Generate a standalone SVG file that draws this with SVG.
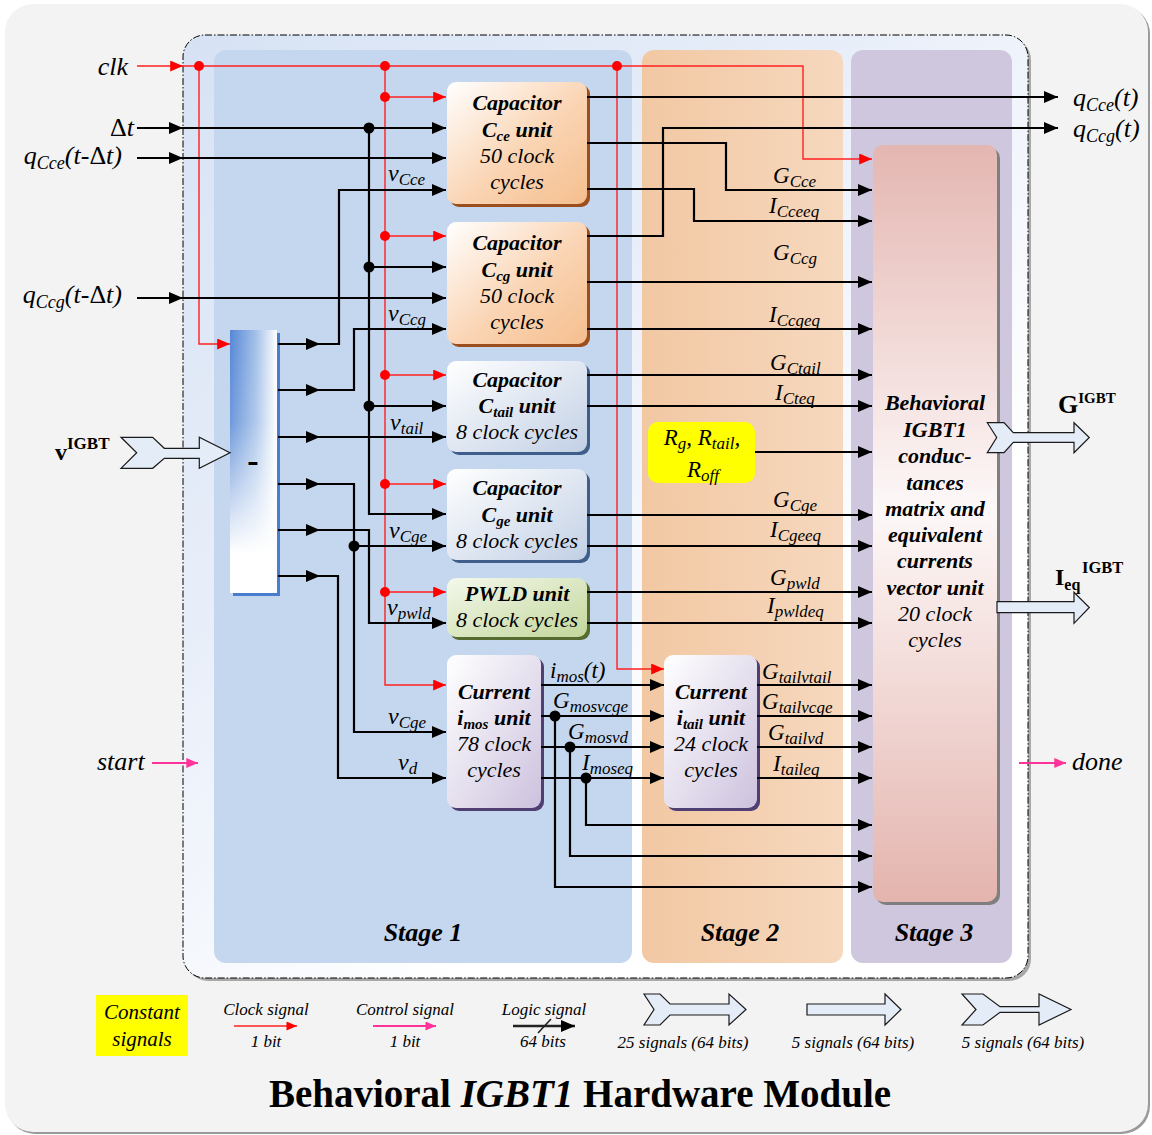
<svg xmlns="http://www.w3.org/2000/svg" width="1152" height="1135" viewBox="0 0 1152 1135">
<defs>
<style>
text{font-family:"Liberation Serif","Times New Roman",serif;fill:#000}
.it{font-style:italic}
.bi{font-style:italic;font-weight:bold}
.bd{font-weight:bold}
.w{fill:none;stroke:#000;stroke-width:2.2}
.r{fill:none;stroke:#ff2020;stroke-width:1.4}
.pk{fill:none;stroke:#ff3399;stroke-width:2}
.lab{font-style:italic;font-size:23px}
.vl{font-style:italic;font-size:24px}
.s{font-size:17px}
.blk{font-size:22px;text-anchor:middle}
.chev{fill:#e4ecf7;stroke:#1a1a1a;stroke-width:1.2}
.leg{font-style:italic;font-size:17px;text-anchor:middle}
.stg{font-style:italic;font-weight:bold;font-size:26px;text-anchor:middle}
</style>
<marker id="ab" viewBox="0 0 14 12" refX="14" refY="6" markerWidth="14" markerHeight="12" markerUnits="userSpaceOnUse" orient="auto"><path d="M0,0 L14,6 L0,12 z" fill="#000"/></marker>
<marker id="ar" viewBox="0 0 14 12" refX="14" refY="6" markerWidth="14" markerHeight="11" markerUnits="userSpaceOnUse" orient="auto"><path d="M0,0 L14,6 L0,12 z" fill="#ff0000"/></marker>
<marker id="ap" viewBox="0 0 14 12" refX="14" refY="6" markerWidth="13" markerHeight="10" markerUnits="userSpaceOnUse" orient="auto"><path d="M0,0 L14,6 L0,12 z" fill="#ff3399"/></marker>
<marker id="arS" viewBox="0 0 14 12" refX="14" refY="6" markerWidth="11" markerHeight="9" markerUnits="userSpaceOnUse" orient="auto"><path d="M0,0 L14,6 L0,12 z" fill="#ff0000"/></marker>
<marker id="apS" viewBox="0 0 14 12" refX="14" refY="6" markerWidth="11" markerHeight="9" markerUnits="userSpaceOnUse" orient="auto"><path d="M0,0 L14,6 L0,12 z" fill="#ff3399"/></marker>
<linearGradient id="gCont" gradientUnits="userSpaceOnUse" x1="183" y1="35" x2="1028" y2="978"><stop offset="0" stop-color="#d6e2f4"/><stop offset="0.35" stop-color="#e8eef9"/><stop offset="0.7" stop-color="#ffffff"/></linearGradient>
<linearGradient id="gS2" x1="0" y1="0" x2="1" y2="0"><stop offset="0" stop-color="#f2c8a3"/><stop offset="1" stop-color="#f6d8be"/></linearGradient>
<linearGradient id="gCap" x1="0" y1="0" x2="1" y2="1"><stop offset="0" stop-color="#ffffff"/><stop offset="0.55" stop-color="#fad4b3"/><stop offset="1" stop-color="#f5bf8f"/></linearGradient>
<linearGradient id="gBlu" x1="0" y1="0" x2="1" y2="1"><stop offset="0" stop-color="#ffffff"/><stop offset="1" stop-color="#c2d0e5"/></linearGradient>
<linearGradient id="gGrn" x1="0" y1="0" x2="1" y2="1"><stop offset="0" stop-color="#f4f8ec"/><stop offset="1" stop-color="#c3d79b"/></linearGradient>
<linearGradient id="gCur" x1="0" y1="0" x2="1" y2="1"><stop offset="0" stop-color="#ffffff"/><stop offset="1" stop-color="#cdc2de"/></linearGradient>
<linearGradient id="gS3" x1="0" y1="0" x2="0" y2="1"><stop offset="0" stop-color="#e4b6b1"/><stop offset="0.48" stop-color="#fdf8f8"/><stop offset="1" stop-color="#e4b4ae"/></linearGradient>
<linearGradient id="gSubH" x1="0" y1="0" x2="1" y2="0"><stop offset="0" stop-color="#5587d5"/><stop offset="0.55" stop-color="#a3c0e8"/><stop offset="1" stop-color="#ffffff"/></linearGradient>
<linearGradient id="gSubV" x1="0" y1="0" x2="0" y2="1"><stop offset="0" stop-color="#ffffff" stop-opacity="0"/><stop offset="0.35" stop-color="#ffffff" stop-opacity="0.15"/><stop offset="0.85" stop-color="#ffffff" stop-opacity="1"/></linearGradient>
</defs>

<!-- background -->
<rect x="7" y="6" width="1143" height="1128" rx="28" fill="#9a9a9a"/>
<rect x="5" y="4" width="1143" height="1128" rx="28" fill="#f3f3f3"/>

<!-- module container -->
<g id="container">
<rect x="186" y="38" width="845" height="943" rx="22" fill="#a8a8a8"/>
<rect x="183" y="35" width="845" height="943" rx="22" fill="url(#gCont)" stroke="#000" stroke-width="1" stroke-dasharray="7 2 1.5 2"/>
</g>

<!-- stage panels -->
<g id="stage1"><rect x="214" y="50" width="418" height="913" rx="12" fill="#c5d7ee"/><text class="stg" x="423" y="941">Stage 1</text></g>
<g id="stage2"><rect x="642" y="50" width="201" height="913" rx="12" fill="url(#gS2)"/><text class="stg" x="740" y="941">Stage 2</text></g>
<g id="stage3"><rect x="851" y="50" width="161" height="913" rx="12" fill="#cfc7dd"/><text class="stg" x="934" y="941">Stage 3</text></g>

<!-- nodes -->
<g id="subtractor">
<rect x="233" y="333" width="47" height="263" fill="#4a7ccf"/>
<rect x="230" y="330" width="47" height="263" fill="url(#gSubH)"/>
<rect x="230" y="330" width="47" height="263" fill="url(#gSubV)"/>
<text x="253" y="472" font-size="34" font-weight="bold" text-anchor="middle">-</text>
</g>

<g id="cce-unit">
<rect x="450" y="85" width="140" height="122" rx="9" fill="#9c4f1c"/>
<rect x="447" y="82" width="140" height="122" rx="9" fill="url(#gCap)"/>
<text class="blk bi" x="517" y="110">Capacitor</text>
<text class="blk bi" x="517" y="137">C<tspan font-size="15" dy="4">ce</tspan><tspan dy="-4"> unit</tspan></text>
<text class="blk it" x="517" y="163">50 clock</text>
<text class="blk it" x="517" y="189">cycles</text>
</g>

<g id="ccg-unit">
<rect x="450" y="225" width="140" height="122" rx="9" fill="#9c4f1c"/>
<rect x="447" y="222" width="140" height="122" rx="9" fill="url(#gCap)"/>
<text class="blk bi" x="517" y="250">Capacitor</text>
<text class="blk bi" x="517" y="277">C<tspan font-size="15" dy="4">cg</tspan><tspan dy="-4"> unit</tspan></text>
<text class="blk it" x="517" y="303">50 clock</text>
<text class="blk it" x="517" y="329">cycles</text>
</g>

<g id="ctail-unit">
<rect x="450" y="364" width="140" height="91" rx="9" fill="#3f5f8a"/>
<rect x="447" y="361" width="140" height="91" rx="9" fill="url(#gBlu)"/>
<text class="blk bi" x="517" y="387">Capacitor</text>
<text class="blk bi" x="517" y="413">C<tspan font-size="15" dy="4">tail</tspan><tspan dy="-4"> unit</tspan></text>
<text class="blk it" x="517" y="439">8 clock cycles</text>
</g>

<g id="cge-unit">
<rect x="450" y="472" width="140" height="91" rx="9" fill="#3f5f8a"/>
<rect x="447" y="469" width="140" height="91" rx="9" fill="url(#gBlu)"/>
<text class="blk bi" x="517" y="495">Capacitor</text>
<text class="blk bi" x="517" y="522">C<tspan font-size="15" dy="4">ge</tspan><tspan dy="-4"> unit</tspan></text>
<text class="blk it" x="517" y="548">8 clock cycles</text>
</g>

<g id="pwld-unit">
<rect x="450" y="581" width="140" height="59" rx="9" fill="#556b2f"/>
<rect x="447" y="578" width="140" height="59" rx="9" fill="url(#gGrn)"/>
<text class="blk bi" x="517" y="601">PWLD unit</text>
<text class="blk it" x="517" y="627">8 clock cycles</text>
</g>

<g id="imos-unit">
<rect x="450" y="658" width="94" height="153" rx="9" fill="#4f3f72"/>
<rect x="447" y="655" width="94" height="153" rx="9" fill="url(#gCur)"/>
<text class="blk bi" x="494" y="699">Current</text>
<text class="blk bi" x="494" y="725">i<tspan font-size="15" dy="4">mos</tspan><tspan dy="-4"> unit</tspan></text>
<text class="blk it" x="494" y="751">78 clock</text>
<text class="blk it" x="494" y="777">cycles</text>
</g>

<g id="itail-unit">
<rect x="667" y="658" width="93" height="153" rx="9" fill="#4f3f72"/>
<rect x="664" y="655" width="93" height="153" rx="9" fill="url(#gCur)"/>
<text class="blk bi" x="711" y="699">Current</text>
<text class="blk bi" x="711" y="725">i<tspan font-size="15" dy="4">tail</tspan><tspan dy="-4"> unit</tspan></text>
<text class="blk it" x="711" y="751">24 clock</text>
<text class="blk it" x="711" y="777">cycles</text>
</g>

<g id="constants">
<rect x="648" y="422" width="107" height="61" rx="10" fill="#ffff00"/>
<text class="lab" x="702" y="445" text-anchor="middle">R<tspan class="s" dy="4">g</tspan><tspan dy="-4">, R</tspan><tspan class="s" dy="4">tail</tspan><tspan dy="-4">,</tspan></text>
<text class="lab" x="703" y="477" text-anchor="middle">R<tspan class="s" dy="4">off</tspan></text>
</g>

<g id="igbt-unit">
<rect x="876" y="148" width="124" height="757" rx="10" fill="#7f7f7f"/>
<rect x="873" y="145" width="124" height="757" rx="10" fill="url(#gS3)"/>
<text class="blk bi" x="935" y="410">Behavioral</text>
<text class="blk bi" x="935" y="436.5">IGBT1</text>
<text class="blk bi" x="935" y="463">conduc-</text>
<text class="blk bi" x="935" y="489.5">tances</text>
<text class="blk bi" x="935" y="516">matrix and</text>
<text class="blk bi" x="935" y="542">equivalent</text>
<text class="blk bi" x="935" y="568">currents</text>
<text class="blk bi" x="935" y="594.5">vector unit</text>
<text class="blk it" x="935" y="621">20 clock</text>
<text class="blk it" x="935" y="647">cycles</text>
</g>

<!-- connectors -->
<g id="connectors">
<!-- clock (red) -->
<path class="r" d="M137,66 H183" marker-end="url(#ar)"/>
<path class="r" d="M183,66 H803 V159 H872" marker-end="url(#ar)"/>
<path class="r" d="M199,66 V344 H230" marker-end="url(#ar)"/>
<path class="r" d="M385,66 V685 H446" marker-end="url(#ar)"/>
<path class="r" d="M385,97 H446" marker-end="url(#ar)"/>
<path class="r" d="M385,236 H446" marker-end="url(#ar)"/>
<path class="r" d="M385,375 H446" marker-end="url(#ar)"/>
<path class="r" d="M385,484 H446" marker-end="url(#ar)"/>
<path class="r" d="M385,592 H446" marker-end="url(#ar)"/>
<path class="r" d="M617,66 V669 H664" marker-end="url(#ar)"/>
<g fill="#ff0000">
<circle cx="199" cy="66" r="5"/><circle cx="385" cy="66" r="5"/><circle cx="617" cy="66" r="5"/>
<circle cx="385" cy="97" r="5"/><circle cx="385" cy="236" r="5"/><circle cx="385" cy="375" r="5"/>
<circle cx="385" cy="484" r="5"/><circle cx="385" cy="592" r="5"/>
</g>
<!-- control (pink) -->
<path class="pk" d="M152,763 H198" marker-end="url(#ap)"/>
<path class="pk" d="M1019,763 H1066" marker-end="url(#ap)"/>
<!-- inputs -->
<path class="w" d="M137,128 H183" marker-end="url(#ab)"/>
<path class="w" d="M183,128 H446" marker-end="url(#ab)"/>
<path class="w" d="M137,158 H183" marker-end="url(#ab)"/>
<path class="w" d="M183,158 H446" marker-end="url(#ab)"/>
<path class="w" d="M137,298 H183" marker-end="url(#ab)"/>
<path class="w" d="M183,298 H446" marker-end="url(#ab)"/>
<path class="w" d="M369,128 V514 H446" marker-end="url(#ab)"/>
<path class="w" d="M369,267 H446" marker-end="url(#ab)"/>
<path class="w" d="M369,406 H446" marker-end="url(#ab)"/>
<!-- subtractor outputs -->
<path class="w" d="M278,344 H320" marker-end="url(#ab)"/>
<path class="w" d="M320,344 H339 V190 H446" marker-end="url(#ab)"/>
<path class="w" d="M278,390 H320" marker-end="url(#ab)"/>
<path class="w" d="M320,390 H354 V329 H446" marker-end="url(#ab)"/>
<path class="w" d="M278,437 H320" marker-end="url(#ab)"/>
<path class="w" d="M320,437 H446" marker-end="url(#ab)"/>
<path class="w" d="M278,484 H320" marker-end="url(#ab)"/>
<path class="w" d="M320,484 H354 V732 H446" marker-end="url(#ab)"/>
<path class="w" d="M354,546 H446" marker-end="url(#ab)"/>
<path class="w" d="M278,530 H320" marker-end="url(#ab)"/>
<path class="w" d="M320,530 H369 V623 H446" marker-end="url(#ab)"/>
<path class="w" d="M278,576 H320" marker-end="url(#ab)"/>
<path class="w" d="M320,576 H338 V778 H446" marker-end="url(#ab)"/>
<!-- capacitor outputs -->
<path class="w" d="M587,97 H1058" marker-end="url(#ab)"/>
<path class="w" d="M587,143 H726 V190 H872" marker-end="url(#ab)"/>
<path class="w" d="M587,189 H694 V221 H872" marker-end="url(#ab)"/>
<path class="w" d="M587,236 H663 V128 H1058" marker-end="url(#ab)"/>
<path class="w" d="M587,282 H872" marker-end="url(#ab)"/>
<path class="w" d="M587,329 H872" marker-end="url(#ab)"/>
<path class="w" d="M587,375 H872" marker-end="url(#ab)"/>
<path class="w" d="M587,406 H872" marker-end="url(#ab)"/>
<path class="w" d="M755,452 H872" marker-end="url(#ab)"/>
<path class="w" d="M587,515 H872" marker-end="url(#ab)"/>
<path class="w" d="M587,546 H872" marker-end="url(#ab)"/>
<path class="w" d="M587,592 H872" marker-end="url(#ab)"/>
<path class="w" d="M587,623 H872" marker-end="url(#ab)"/>
<!-- current units -->
<path class="w" d="M541,685 H664" marker-end="url(#ab)"/>
<path class="w" d="M541,716 H664" marker-end="url(#ab)"/>
<path class="w" d="M541,747 H664" marker-end="url(#ab)"/>
<path class="w" d="M541,778 H664" marker-end="url(#ab)"/>
<path class="w" d="M555,716 V887 H872" marker-end="url(#ab)"/>
<path class="w" d="M570,747 V856 H872" marker-end="url(#ab)"/>
<path class="w" d="M586,778 V825 H872" marker-end="url(#ab)"/>
<path class="w" d="M757,685 H872" marker-end="url(#ab)"/>
<path class="w" d="M757,716 H872" marker-end="url(#ab)"/>
<path class="w" d="M757,747 H872" marker-end="url(#ab)"/>
<path class="w" d="M757,778 H872" marker-end="url(#ab)"/>
<g fill="#000">
<circle cx="369" cy="128" r="5.5"/><circle cx="369" cy="267" r="5.5"/><circle cx="369" cy="406" r="5.5"/>
<circle cx="354" cy="546" r="5.5"/>
<circle cx="555" cy="716" r="5.5"/><circle cx="570" cy="747" r="5.5"/><circle cx="586" cy="778" r="5.5"/>
</g>
<!-- bus arrows -->
<polygon class="chev" points="121,437.3 152.7,437.3 164.3,448.3 199.3,448.3 199.3,437.3 230,452.7 199.3,468.3 199.3,458.3 164.3,458.3 152.7,468.3 121,468.3 136.7,452.7"/>
<polygon class="chev" points="987.3,422.7 1004,422.7 1013.3,432.7 1074,432.7 1074,422.7 1089.3,437.5 1074,452.7 1074,442.3 1013.3,442.3 1004,452.7 987.3,452.7 996.7,437.5"/>
<polygon class="chev" points="997,601.7 1074,601.7 1074,592.3 1089.3,607.5 1074,623.3 1074,612.7 997,612.7"/>
</g>

<!-- signal labels -->
<g id="labels">
<text class="it" font-size="26" x="128" y="75" text-anchor="end">clk</text>
<text font-size="26" x="134" y="136" text-anchor="end">Δ<tspan class="it">t</tspan></text>
<text class="it" font-size="26" x="122" y="164" text-anchor="end">q<tspan font-size="18" dy="5">Cce</tspan><tspan dy="-5">(t-</tspan><tspan font-style="normal">Δ</tspan>t)</text>
<text class="it" font-size="26" x="122" y="303" text-anchor="end">q<tspan font-size="18" dy="5">Ccg</tspan><tspan dy="-5">(t-</tspan><tspan font-style="normal">Δ</tspan>t)</text>
<text class="it" font-size="26" x="1073" y="106">q<tspan font-size="18" dy="5">Cce</tspan><tspan dy="-5">(t)</tspan></text>
<text class="it" font-size="26" x="1073" y="137">q<tspan font-size="18" dy="5">Ccg</tspan><tspan dy="-5">(t)</tspan></text>
<text class="bd" font-size="24" x="55" y="460">v<tspan font-size="17" dy="-11">IGBT</tspan></text>
<text class="bd" font-size="26" x="1058" y="413">G<tspan font-size="15" dy="-10">IGBT</tspan></text>
<text class="bd" font-size="24" x="1055" y="585">I<tspan font-size="16" dy="5">eq</tspan><tspan font-size="16.5" x="1082" y="573">IGBT</tspan></text>
<text class="it" font-size="26" x="97" y="770">start</text>
<text class="it" font-size="26" x="1072" y="770">done</text>

<text class="vl" x="388" y="181">v<tspan class="s" dy="4">Cce</tspan></text>
<text class="vl" x="388" y="321">v<tspan class="s" dy="4">Ccg</tspan></text>
<text class="vl" x="390" y="430">v<tspan class="s" dy="4">tail</tspan></text>
<text class="vl" x="389" y="538">v<tspan class="s" dy="4">Cge</tspan></text>
<text class="vl" x="387" y="615">v<tspan class="s" dy="4">pwld</tspan></text>
<text class="vl" x="388" y="724">v<tspan class="s" dy="4">Cge</tspan></text>
<text class="vl" x="398" y="770">v<tspan class="s" dy="4">d</tspan></text>

<text class="lab" x="773" y="183">G<tspan class="s" dy="4">Cce</tspan></text>
<text class="lab" x="769" y="213">I<tspan class="s" dy="4">Cceeq</tspan></text>
<text class="lab" x="773" y="260">G<tspan class="s" dy="4">Ccg</tspan></text>
<text class="lab" x="769" y="322">I<tspan class="s" dy="4">Ccgeq</tspan></text>
<text class="lab" x="770" y="370">G<tspan class="s" dy="4">Ctail</tspan></text>
<text class="lab" x="775" y="400">I<tspan class="s" dy="4">Cteq</tspan></text>
<text class="lab" x="773" y="507">G<tspan class="s" dy="4">Cge</tspan></text>
<text class="lab" x="770" y="537">I<tspan class="s" dy="4">Cgeeq</tspan></text>
<text class="lab" x="770" y="585">G<tspan class="s" dy="4">pwld</tspan></text>
<text class="lab" x="767" y="613">I<tspan class="s" dy="4">pwldeq</tspan></text>
<text class="lab" x="762" y="679">G<tspan class="s" dy="4">tailvtail</tspan></text>
<text class="lab" x="762" y="709">G<tspan class="s" dy="4">tailvcge</tspan></text>
<text class="lab" x="768" y="740">G<tspan class="s" dy="4">tailvd</tspan></text>
<text class="lab" x="773" y="771">I<tspan class="s" dy="4">taileq</tspan></text>
<text class="lab" x="550" y="678">i<tspan class="s" dy="4">mos</tspan><tspan dy="-4">(t)</tspan></text>
<text class="lab" x="553" y="708">G<tspan class="s" dy="4">mosvcge</tspan></text>
<text class="lab" x="568" y="739">G<tspan class="s" dy="4">mosvd</tspan></text>
<text class="lab" x="582" y="770">I<tspan class="s" dy="4">moseq</tspan></text>
</g>

<!-- legend -->
<g id="legend">
<rect x="96" y="995" width="92" height="61" fill="#ffff00"/>
<text class="it" font-size="21" x="142" y="1019" text-anchor="middle">Constant</text>
<text class="it" font-size="21" x="142" y="1046" text-anchor="middle">signals</text>
<text class="leg" x="266" y="1015">Clock signal</text>
<path d="M234,1026 H297" stroke="#ff2020" stroke-width="1.6" fill="none" marker-end="url(#arS)"/>
<text class="leg" x="266" y="1047">1 bit</text>
<text class="leg" x="405" y="1015">Control signal</text>
<path d="M373,1026 H436" stroke="#ff3399" stroke-width="2" fill="none" marker-end="url(#apS)"/>
<text class="leg" x="405" y="1047">1 bit</text>
<text class="leg" x="544" y="1015">Logic signal</text>
<path d="M513,1026 H575" stroke="#222" stroke-width="2.5" fill="none" marker-end="url(#ab)"/>
<path d="M538,1033 L551,1019" stroke="#222" stroke-width="1.6"/>
<text class="leg" x="543" y="1047">64 bits</text>
<polygon class="chev" points="644,994 660,994 670,1004 729,1004 729,994 746,1009.5 729,1025 729,1015 670,1015 660,1025 644,1025 654,1009.5"/>
<text class="leg" x="683" y="1048">25 signals (64 bits)</text>
<polygon class="chev" points="807,1004 885,1004 885,994 901,1009.5 885,1025 885,1015 807,1015"/>
<text class="leg" x="853" y="1048">5 signals (64 bits)</text>
<polygon class="chev" points="962,994 983,994 1000,1006.7 1039,1006.7 1039,994 1071,1009.5 1039,1025 1039,1012.3 1000,1012.3 983,1025 962,1025 976,1009.5"/>
<text class="leg" x="1023" y="1048">5 signals (64 bits)</text>
</g>

<text x="580" y="1107" text-anchor="middle" font-size="39" font-weight="bold">Behavioral <tspan font-style="italic">IGBT1</tspan> Hardware Module</text>
</svg>
